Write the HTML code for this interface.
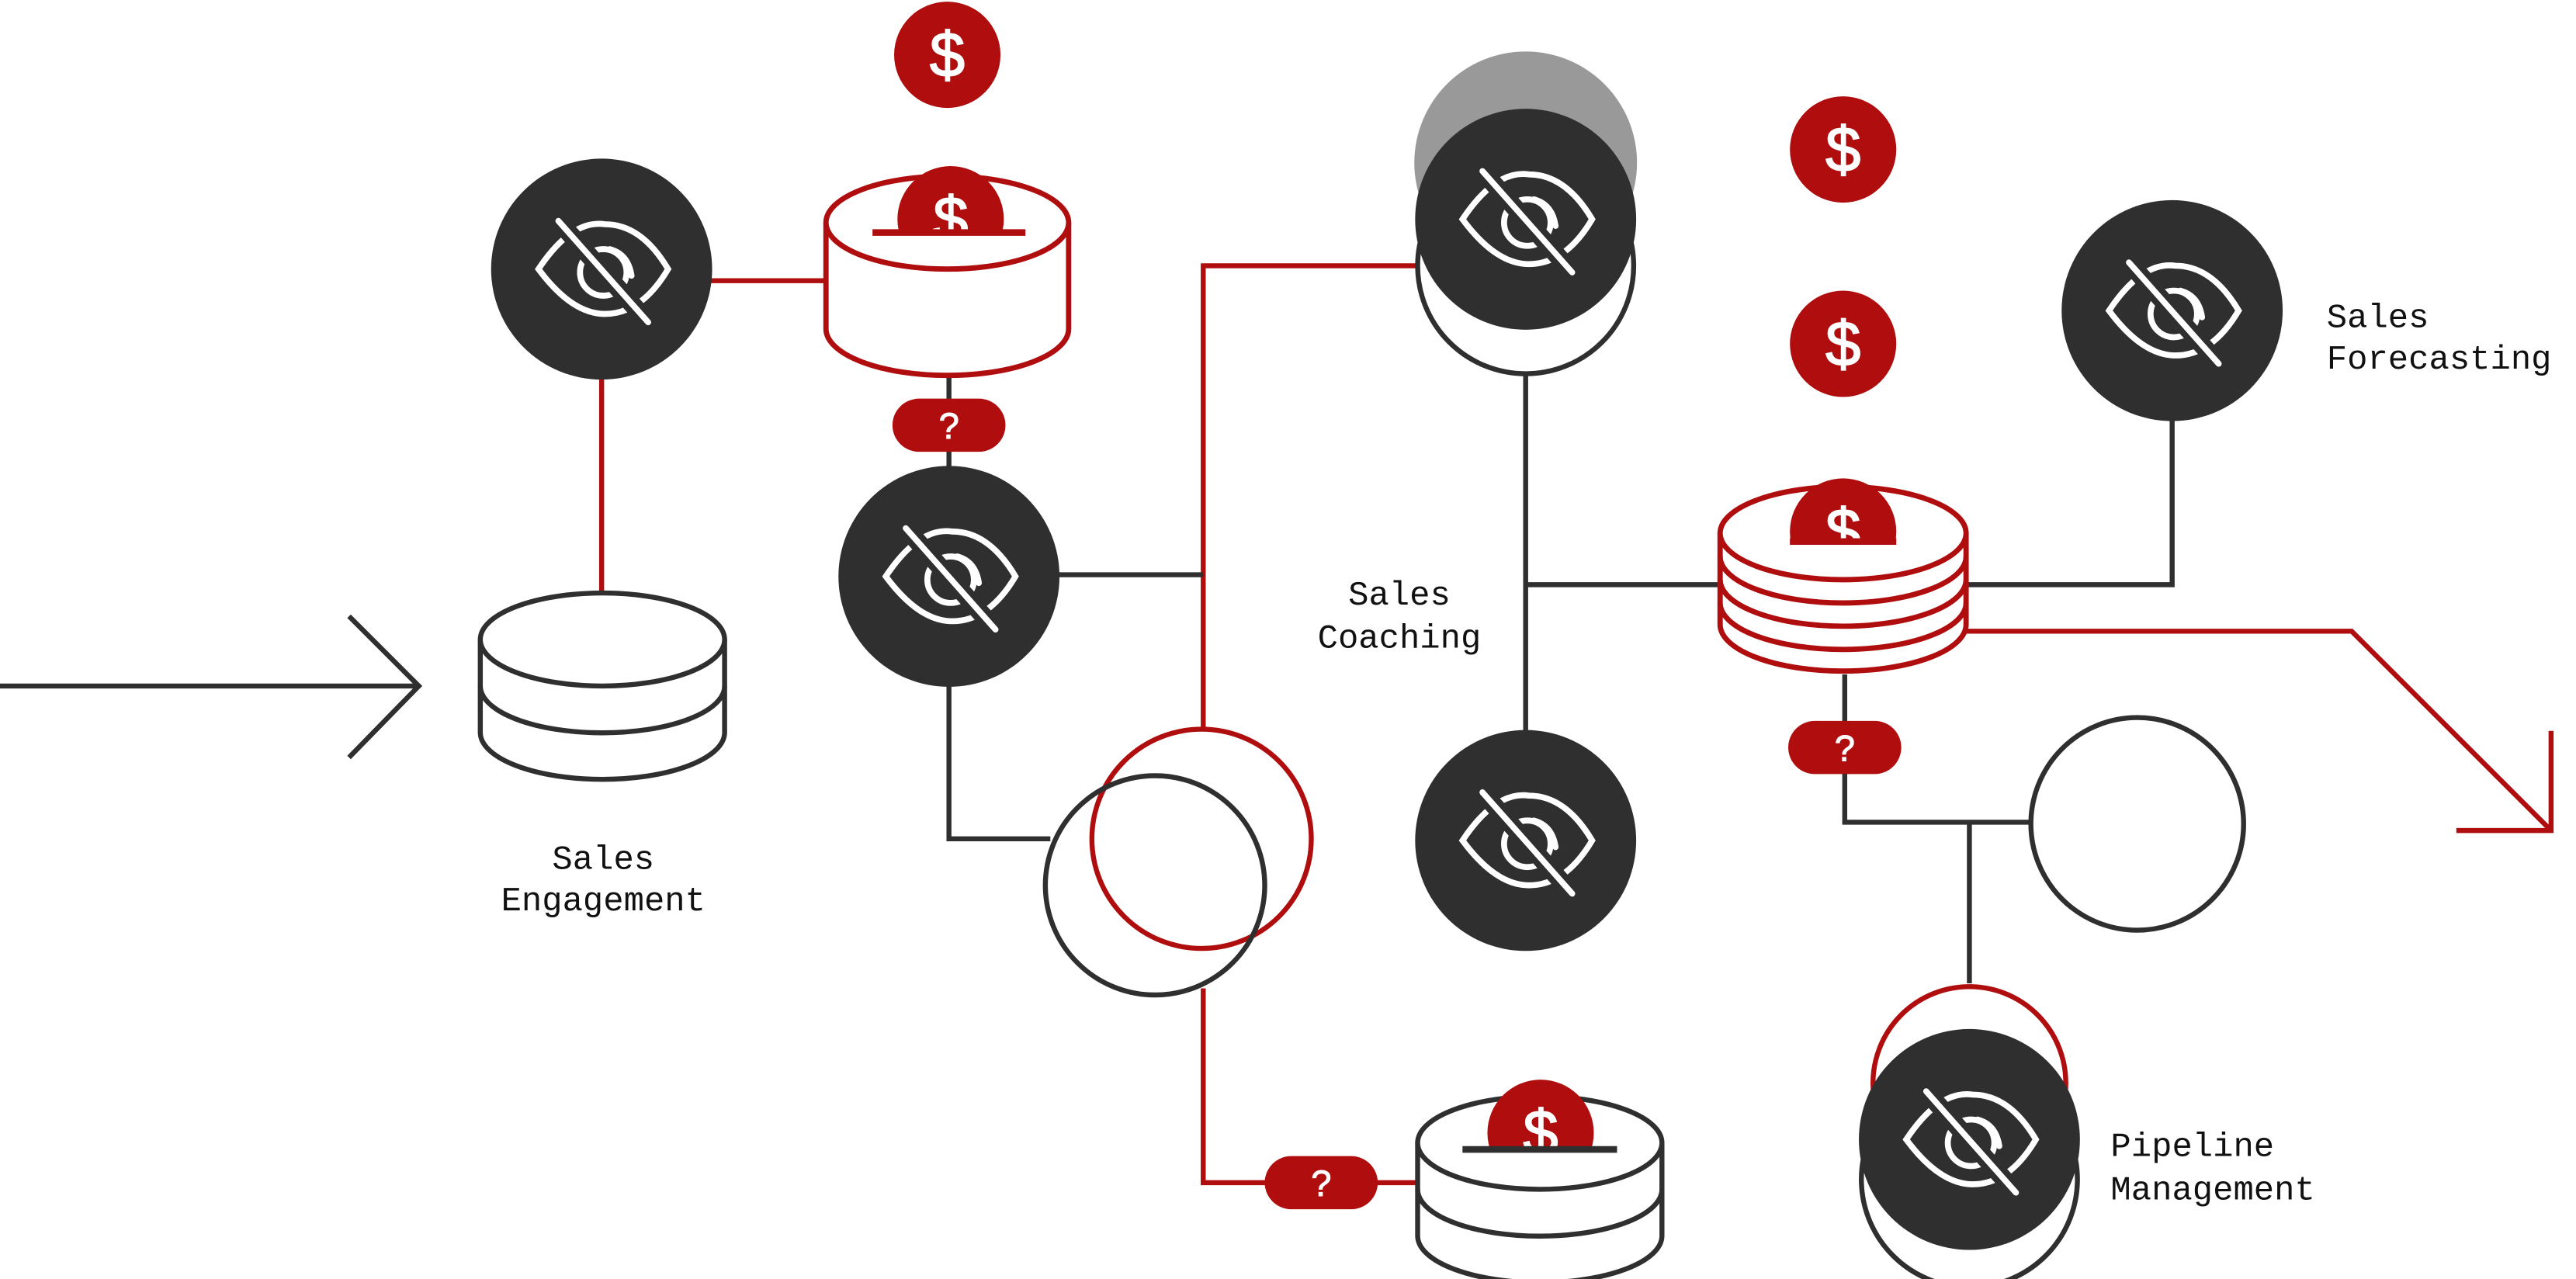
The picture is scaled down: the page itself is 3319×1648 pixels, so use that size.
<!DOCTYPE html>
<html><head><meta charset="utf-8"><style>
html,body{margin:0;padding:0;background:#fff;}
svg{display:block;}
text{font-family:"Liberation Mono",monospace;}
</style></head><body>
<svg width="3319" height="1648" viewBox="0 0 1550 770" preserveAspectRatio="none" xmlns="http://www.w3.org/2000/svg">
<defs>
<g id="eye">
  <circle r="66.5" fill="#2f2f2f"/>
  <g fill="none" stroke="#fff" stroke-width="3.6" stroke-linecap="round">
    <path d="M-38,0 Q-18,-30 2,-27 Q24,-27 40,0 Q24,27 2,27 Q-18,27 -38,0 Z"/>
    <circle cx="1" cy="2" r="14"/>
    <path d="M5,-12 Q16,-9 18,4"/>
  </g>
  <line x1="-26" y1="-29" x2="28" y2="32" stroke="#2f2f2f" stroke-width="11"/>
  <line x1="-26" y1="-29" x2="28" y2="32" stroke="#fff" stroke-width="3.6" stroke-linecap="round"/>
</g>
<g id="coin">
  <circle r="32" fill="#b00e0e"/>
  <text x="0" y="13" text-anchor="middle" style="font-family:'Liberation Sans',sans-serif" font-size="38" fill="#fff" stroke="#fff" stroke-width="0.8">$</text>
</g>
<g id="pill">
  <rect x="-34" y="-16" width="68" height="32" rx="16" fill="#b00e0e"/>
  <text x="0" y="8" text-anchor="middle" style="font-family:'Liberation Sans',sans-serif" font-size="22" fill="#fff" stroke="#fff" stroke-width="0.5">?</text>
</g>
</defs>

<g fill="none" stroke-width="3">
<line x1="0" y1="413" x2="252" y2="413" stroke="#2f2f2f"/>
<polyline points="210,371 252,413 210,456" stroke="#2f2f2f"/>
<line x1="362" y1="200" x2="362" y2="356" stroke="#b00e0e"/>
<line x1="420" y1="169" x2="498" y2="169" stroke="#b00e0e"/>
<polyline points="852,160 724,160 724,440" stroke="#b00e0e"/>
<polyline points="724,595 724,712 770,712" stroke="#b00e0e"/>
<line x1="820" y1="712" x2="853" y2="712" stroke="#b00e0e"/>
<polyline points="1180,380 1415,380 1535,500" stroke="#b00e0e"/>
<polyline points="1535,440 1535,500 1478,500" stroke="#b00e0e"/>
<line x1="571" y1="226" x2="571" y2="290" stroke="#2f2f2f"/>
<line x1="630" y1="346" x2="724" y2="346" stroke="#2f2f2f"/>
<polyline points="571,400 571,505 632,505" stroke="#2f2f2f"/>
<line x1="918" y1="225" x2="918" y2="440" stroke="#2f2f2f"/>
<line x1="918" y1="352" x2="1034" y2="352" stroke="#2f2f2f"/>
<polyline points="1182,352 1307,352 1307,248" stroke="#2f2f2f"/>
<polyline points="1110,406 1110,495 1222,495" stroke="#2f2f2f"/>
<line x1="1185" y1="495" x2="1185" y2="592" stroke="#2f2f2f"/>
</g>

<use href="#eye" x="362" y="162"/>
<use href="#coin" x="570" y="33"/>
<g stroke="#b00e0e" stroke-width="3.2" fill="#fff">
  <path d="M497,134 L497,198 A73,28 0 0 0 643,198 L643,134"/>
  <ellipse cx="570" cy="134" rx="73" ry="28"/>
</g>
<g>
  <clipPath id="c1"><rect x="500" y="80" width="140" height="60"/></clipPath>
  <g clip-path="url(#c1)"><use href="#coin" x="572" y="132"/></g>
  <line x1="525" y1="140" x2="617" y2="140" stroke="#b00e0e" stroke-width="4"/>
</g>
<use href="#pill" x="571" y="256"/>
<use href="#eye" x="571" y="347"/>

<g stroke="#2f2f2f" stroke-width="3" fill="#fff">
  <path d="M289,385 L289,441 A73,28 0 0 0 436,441 L436,385"/>
  <path d="M289,413 A73,28 0 0 0 436,413" fill="none"/>
  <ellipse cx="362.5" cy="385" rx="73.5" ry="28"/>
</g>

<circle cx="723" cy="505" r="66" fill="none" stroke="#b00e0e" stroke-width="3"/>
<circle cx="695" cy="533" r="66" fill="none" stroke="#2f2f2f" stroke-width="3"/>

<use href="#pill" x="795" y="712"/>
<g stroke="#2f2f2f" stroke-width="3" fill="#fff">
  <path d="M853,688 L853,744 A73,28 0 0 0 1000,744 L1000,688"/>
  <path d="M853,716 A73,28 0 0 0 1000,716" fill="none"/>
  <ellipse cx="926.5" cy="688" rx="73.5" ry="28"/>
</g>
<clipPath id="c3"><rect x="880" y="640" width="100" height="52"/></clipPath>
<g clip-path="url(#c3)"><use href="#coin" x="927" y="682"/></g>
<line x1="880" y1="692" x2="973" y2="692" stroke="#2f2f2f" stroke-width="4"/>

<circle cx="918" cy="98" r="67" fill="#999"/>
<circle cx="918" cy="160" r="65" fill="#fff" stroke="#2f2f2f" stroke-width="3"/>
<use href="#eye" x="918" y="132"/>
<use href="#eye" x="918" y="506"/>
<text x="842" y="364" text-anchor="middle" font-size="20.5" fill="#111">Sales</text>
<text x="842" y="390" text-anchor="middle" font-size="20.5" fill="#111">Coaching</text>

<use href="#coin" x="1109" y="90"/>
<use href="#coin" x="1109" y="207"/>

<g stroke="#b00e0e" stroke-width="3.2" fill="#fff">
  <path d="M1035,321 L1035,376 A74,28 0 0 0 1183,376 L1183,321"/>
  <path d="M1035,363 A74,28 0 0 0 1183,363" fill="none"/>
  <path d="M1035,349 A74,28 0 0 0 1183,349" fill="none"/>
  <path d="M1035,335 A74,28 0 0 0 1183,335" fill="none"/>
  <ellipse cx="1109" cy="321" rx="74" ry="28"/>
</g>
<clipPath id="c2"><rect x="1060" y="270" width="100" height="56"/></clipPath>
<g clip-path="url(#c2)"><use href="#coin" x="1109" y="320"/></g>
<line x1="1077" y1="326" x2="1141" y2="326" stroke="#b00e0e" stroke-width="4"/>

<use href="#pill" x="1110" y="450"/>
<use href="#eye" x="1307" y="187"/>
<text x="1400" y="197" font-size="20.5" fill="#111">Sales</text>
<text x="1400" y="222" font-size="20.5" fill="#111">Forecasting</text>

<circle cx="1286" cy="496" r="64" fill="none" stroke="#2f2f2f" stroke-width="3"/>

<circle cx="1185" cy="652" r="58" fill="none" stroke="#b00e0e" stroke-width="3"/>
<circle cx="1185" cy="710" r="65" fill="#fff" stroke="#2f2f2f" stroke-width="3"/>
<use href="#eye" x="1185" y="686"/>
<text x="1270" y="696" font-size="20.5" fill="#111">Pipeline</text>
<text x="1270" y="722" font-size="20.5" fill="#111">Management</text>

<text x="363" y="523" text-anchor="middle" font-size="20.5" fill="#111">Sales</text>
<text x="363" y="548" text-anchor="middle" font-size="20.5" fill="#111">Engagement</text>
</svg>
</body></html>
